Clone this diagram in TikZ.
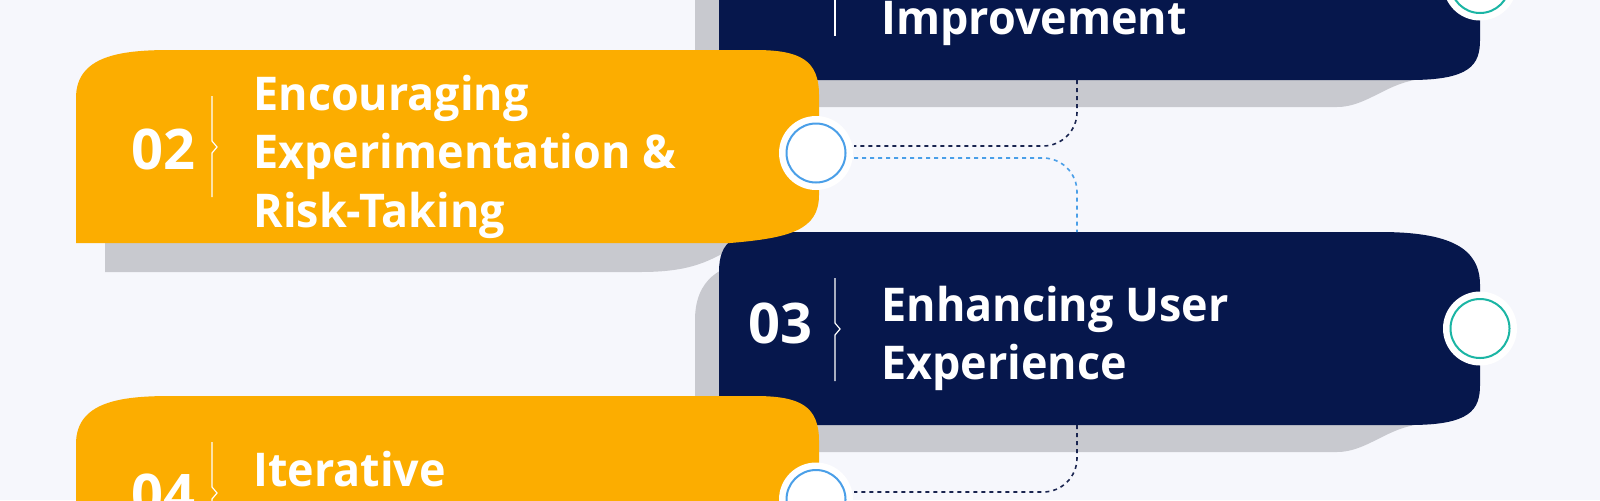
\documentclass[tikz,border=0pt]{standalone}
\usepackage{fontspec}
\IfFontExistsTF{Noto Sans Bold}
  {\def\mybold{Noto Sans Bold}}
  {\def\mybold{Open Sans Bold}}
\setmainfont{Noto Sans}
\newfontfamily\titlefont{\mybold}[FakeStretch=0.965]
\newfontfamily\numfont{\mybold}
\definecolor{bgc}{HTML}{F6F7FC}
\definecolor{orangec}{HTML}{FCAD00}
\definecolor{navyc}{HTML}{06174C}
\definecolor{shadowc}{HTML}{C8C9CF}
\definecolor{bluec}{HTML}{4A9FE8}
\definecolor{tealc}{HTML}{1BB5A4}
\definecolor{dashnavy}{HTML}{1A2550}
\begin{document}
\begin{tikzpicture}[x=0.5pt,y=-0.5pt,
  shadowfill/.style={fill=shadowc},
  orangebox/.style={fill=orangec},
  navybox/.style={fill=navyc},
  outerring/.style={circle,fill=white,minimum size=37pt,inner sep=0pt},
  bluering/.style={circle,draw=bluec,line width=1pt,fill=white,minimum size=29.5pt,inner sep=0pt},
  tealring/.style={circle,draw=tealc,line width=1pt,fill=white,minimum size=29.5pt,inner sep=0pt},
  sepline/.style={draw=white,line width=0.6pt,line join=miter},
  numtext/.style={font=\numfont\fontsize{28}{32}\selectfont,text=white,inner sep=0pt,anchor=base west},
  titletext/.style={font=\titlefont\fontsize{23.25}{29.25}\selectfont,text=white,inner sep=0pt,anchor=base west},
  dashdark/.style={draw=dashnavy,line width=0.8pt,dash pattern=on 2pt off 2pt,rounded corners=17pt},
  dashblue/.style={draw=bluec,line width=0.8pt,dash pattern=on 2pt off 2pt,rounded corners=17pt}
]
\useasboundingbox (0,0) rectangle (1600,500);
\clip (0,0) rectangle (1600,500);
\fill[bgc] (0,0) rectangle (1600,500);

% ---------- shadows ----------
\begin{scope}[shift={(0,-345)}]
\fill[shadowfill] (760,262) .. controls (720,262) and (695,280) .. (695,320) -- (695,452) -- (1337,452) .. controls (1365,452) and (1385,430) .. (1415,425) -- (1415,300) -- cycle;
\end{scope}
\fill[shadowfill] (105,200) -- (105,272) -- (640,272) .. controls (690,272) and (710,262) .. (740,243) -- (740,200) -- cycle;
\fill[shadowfill] (760,262) .. controls (720,262) and (695,280) .. (695,320) -- (695,452) -- (1337,452) .. controls (1365,452) and (1385,430) .. (1415,425) -- (1415,300) -- cycle;
\begin{scope}[shift={(0,346)}]
\fill[shadowfill] (105,200) -- (105,272) -- (640,272) .. controls (690,272) and (710,262) .. (740,243) -- (740,200) -- cycle;
\end{scope}

% ---------- navy boxes ----------
\begin{scope}[shift={(0,-345)}]
\fill[navybox] (719,425) -- (719,272) .. controls (719,240) and (735,232) .. (775,232) -- (1380,232) .. controls (1450,232) and (1480,248) .. (1480,285) -- (1480,385) .. controls (1480,410) and (1470,425) .. (1410,425) -- cycle;
\end{scope}
\fill[navybox] (719,425) -- (719,272) .. controls (719,240) and (735,232) .. (775,232) -- (1380,232) .. controls (1450,232) and (1480,248) .. (1480,285) -- (1480,385) .. controls (1480,410) and (1470,425) .. (1410,425) -- cycle;

% ---------- orange boxes ----------
\fill[orangebox] (76,243) -- (76,98) .. controls (76,56) and (120,50) .. (170,50) -- (755,50) .. controls (800,50) and (819,60) .. (819,95) -- (819,195) .. controls (819,230) and (790,238) .. (730,243) -- cycle;
\begin{scope}[shift={(0,346)}]
\fill[orangebox] (76,243) -- (76,98) .. controls (76,56) and (120,50) .. (170,50) -- (755,50) .. controls (800,50) and (819,60) .. (819,95) -- (819,195) .. controls (819,230) and (790,238) .. (730,243) -- cycle;
\end{scope}

% ---------- connector end points ----------
\coordinate (b1) at (1077,80);
\coordinate (b3top) at (1077,232);
\coordinate (b3bot) at (1077,425);
\coordinate (p2a) at (854,146);
\coordinate (p2b) at (854,158);
\coordinate (p4a) at (854,492);

\draw[dashdark] (b1) |- (p2a);
\draw[dashblue] (p2b) -| (b3top);
\draw[dashdark] (b3bot) |- (p4a);

% ---------- circles ----------
\node[outerring] (c1o) at (1480,-16.5) {};
\node[tealring] (c1) at (1480,-16.5) {};
\node[outerring] (c2o) at (816,153) {};
\node[bluering] (c2) at (816,153) {};
\node[outerring] (c3o) at (1480,328.5) {};
\node[tealring] (c3) at (1480,328.5) {};
\node[outerring] (c4o) at (816,499.5) {};
\node[bluering] (c4) at (816,499.5) {};

% ---------- separators ----------
\draw[sepline] (835,-67) -- (835,36);
\draw[sepline] (212,96) -- (212,141) -- (217,147) -- (212,153) -- (212,197);
\draw[sepline] (835,278) -- (835,323) -- (840,329) -- (835,335) -- (835,381);
\draw[sepline] (212,442) -- (212,487) -- (217,493) -- (212,499) -- (212,543);

% ---------- texts ----------
\node[titletext] (t1) at (881,34) {Improvement};
\node[numtext] (n2) at (131,169) {02};
\node[titletext] (t2) at (253,110) {\begin{tabular}[t]{@{}l@{}}Encouraging\\Experimentation \&\\Risk-Taking\end{tabular}};
\node[numtext] (n3) at (748,343) {03};
\node[titletext] (t3) at (881,321) {\begin{tabular}[t]{@{}l@{}}Enhancing User\\Experience\end{tabular}};
\node[numtext] (n4) at (131,514) {04};
\node[titletext] (t4) at (253,486) {Iterative};
\end{tikzpicture}
\end{document}
